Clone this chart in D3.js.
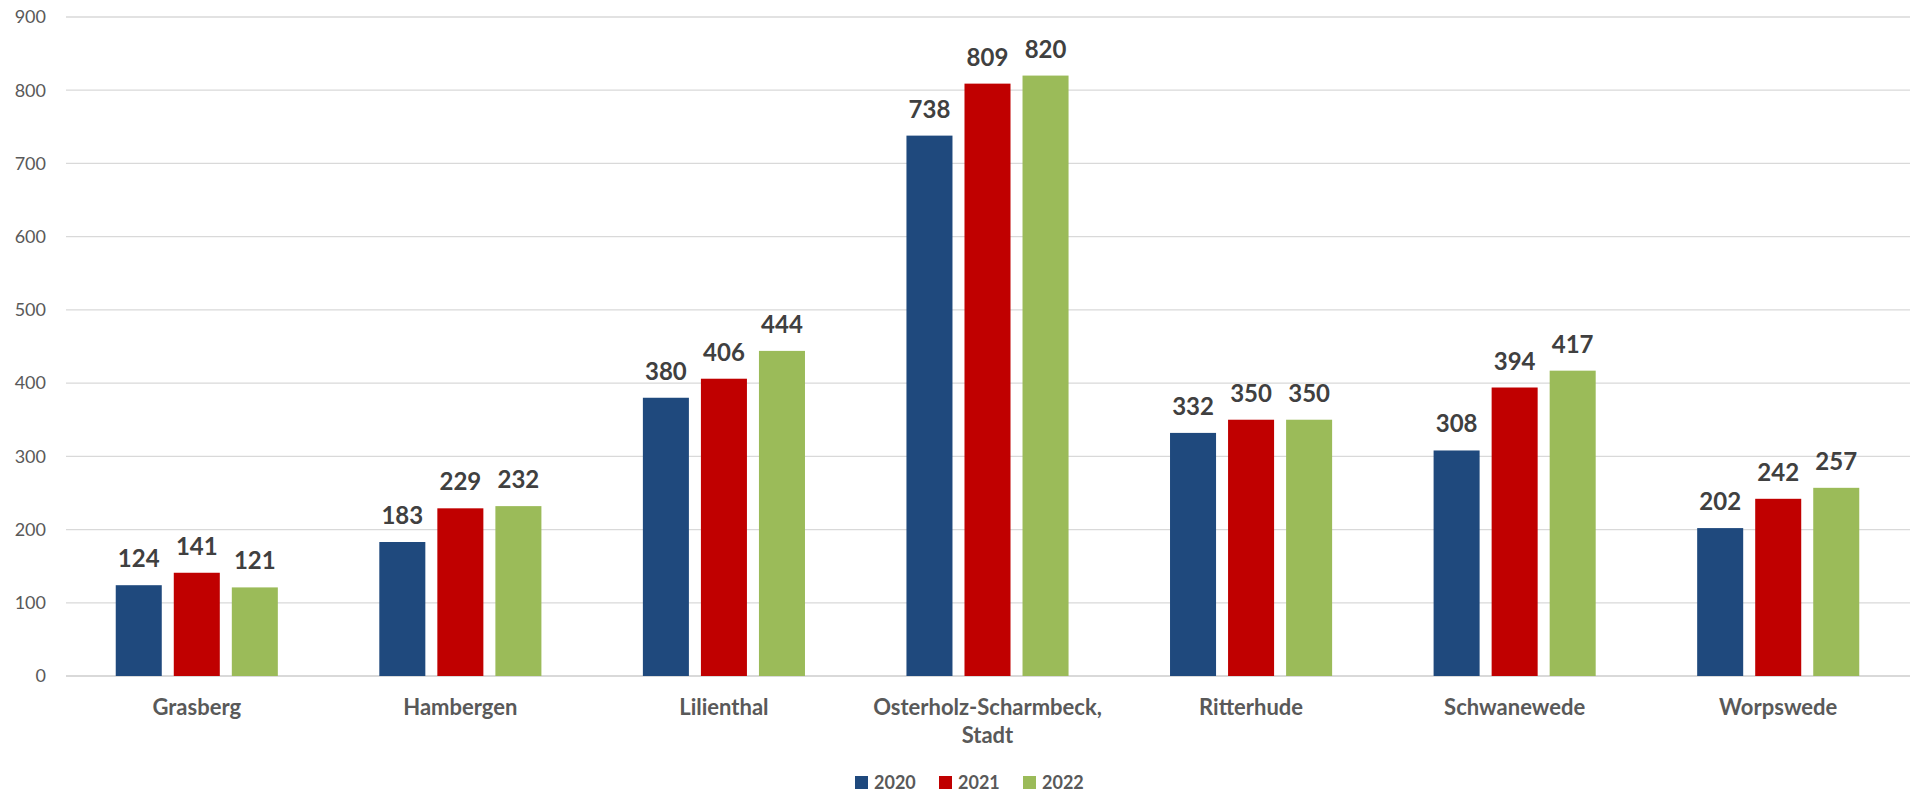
<!DOCTYPE html>
<html>
<head>
<meta charset="utf-8">
<script src="https://cdn.jsdelivr.net/npm/d3@7"></script>
<style>
  body { margin: 0; background: #fff; }
  text { font-family: Lato, "Open Sans", sans-serif; }
</style>
</head>
<body>
<svg id="chart" width="1910" height="794"></svg>
<script>
var categories = ["Grasberg", "Hambergen", "Lilienthal", "Osterholz-Scharmbeck,\nStadt", "Ritterhude", "Schwanewede", "Worpswede"];
var years = ["2020", "2021", "2022"];
var values2020 = [124, 183, 380, 738, 332, 308, 202];
var values2021 = [141, 229, 406, 809, 350, 394, 242];
var values2022 = [121, 232, 444, 820, 350, 417, 257];
var yTicks = [0, 100, 200, 300, 400, 500, 600, 700, 800, 900];
var colors = ["#1F497D", "#C00000", "#9BBB59"];

var series = [values2020, values2021, values2022];
var svg = d3.select("#chart");
var margin = { left: 66, right: 0, top: 17, bottom: 118 };
var width = 1910, height = 794;

var x0 = d3.scaleBand()
    .domain(d3.range(categories.length))
    .range([65, 1910])
    .paddingInner(0.385)
    .paddingOuter(0.1925);
var x1 = d3.scaleBand()
    .domain(d3.range(years.length))
    .range([0, x0.bandwidth()])
    .paddingInner(0.207);
var y = d3.scaleLinear().domain([0, 900]).range([height - margin.bottom, margin.top]);

// grid
svg.append("g")
    .selectAll("line")
    .data(yTicks)
    .join("line")
    .attr("x1", margin.left)
    .attr("x2", width - margin.right)
    .attr("y1", d => y(d))
    .attr("y2", d => y(d))
    .attr("stroke", "#D9D9D9")
    .attr("stroke-width", d => d === 0 ? 2 : 1.3);

svg.append("g")
    .selectAll("text")
    .data(yTicks)
    .join("text")
    .attr("x", 46)
    .attr("y", d => y(d))
    .attr("dy", "0.35em")
    .attr("text-anchor", "end")
    .attr("font-size", 18)
    .attr("fill", "#595959")
    .text(d => d);

// bars
var groups = svg.append("g")
    .selectAll("g")
    .data(categories)
    .join("g")
    .attr("transform", (c, i) => `translate(${x0(i)},0)`);

groups.each(function (c, i) {
    var g = d3.select(this);
    series.forEach(function (vals, s) {
        g.append("rect")
            .attr("x", x1(s))
            .attr("y", y(vals[i]))
            .attr("width", x1.bandwidth())
            .attr("height", y(0) - y(vals[i]))
            .attr("fill", colors[s]);
        g.append("text")
            .attr("x", x1(s) + x1.bandwidth() / 2)
            .attr("y", y(vals[i]) - 18)
            .attr("text-anchor", "middle")
            .attr("font-size", 24)
            .attr("font-weight", "bold")
            .attr("fill", "#404040")
            .text(vals[i]);
    });
    var lines = c.split("\n");
    g.append("text")
        .attr("x", x0.bandwidth() / 2)
        .attr("y", 715)
        .attr("text-anchor", "middle")
        .attr("font-size", 22)
        .attr("font-weight", "bold")
        .attr("fill", "#595959")
        .selectAll("tspan")
        .data(lines)
        .join("tspan")
        .attr("x", x0.bandwidth() / 2)
        .attr("dy", (l, k) => k === 0 ? 0 : 28)
        .text(l => l);
});

// legend
var legend = svg.append("g")
    .selectAll("g")
    .data(years)
    .join("g")
    .attr("transform", (d, i) => `translate(${855 + i * 84},776)`);
legend.append("rect")
    .attr("width", 13)
    .attr("height", 13)
    .attr("fill", (d, i) => colors[i]);
legend.append("text")
    .attr("x", 19)
    .attr("y", 6.5)
    .attr("dy", "0.35em")
    .attr("font-size", 18)
    .attr("font-weight", "bold")
    .attr("fill", "#595959")
    .text(d => d);
</script>
</body>
</html>
